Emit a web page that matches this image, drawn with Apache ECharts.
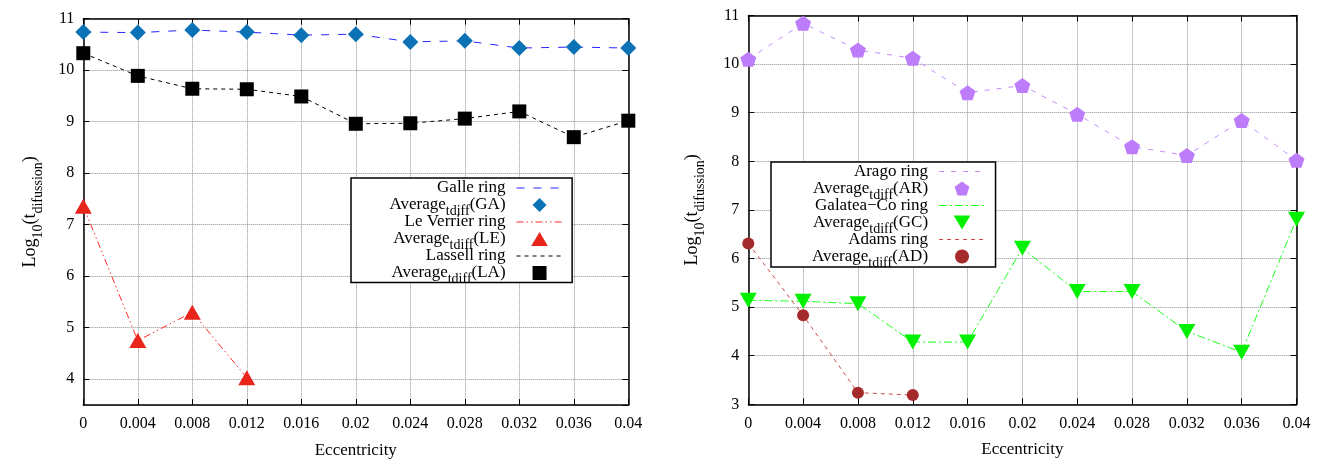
<!DOCTYPE html>
<html><head><meta charset="utf-8">
<script src="https://cdn.jsdelivr.net/npm/echarts@6/dist/echarts.min.js"></script>
<style>html,body{margin:0;padding:0;background:#fff}#c{width:1320px;height:460px}</style>
</head><body><div id="c"></div><script>
// ---- data ----
const eccentricity = [0, 0.004, 0.008, 0.012, 0.016, 0.02, 0.024, 0.028, 0.032, 0.036, 0.04];
const galleAvg    = [10.74, 10.73, 10.78, 10.74, 10.68, 10.70, 10.55, 10.57, 10.43, 10.45, 10.43];
const lassellAvg  = [10.33, 9.89, 9.64, 9.63, 9.49, 8.96, 8.97, 9.06, 9.20, 8.70, 9.02];
const leVerrierEcc = [0, 0.004, 0.008, 0.012];
const leVerrierAvg = [7.36, 4.75, 5.30, 4.03];
const aragoAvg    = [10.10, 10.84, 10.29, 10.12, 9.41, 9.56, 8.97, 8.30, 8.12, 8.84, 8.02];
const galateaAvg  = [5.14, 5.12, 5.07, 4.28, 4.28, 6.21, 5.32, 5.32, 4.50, 4.07, 6.81];
const adamsEcc    = [0, 0.004, 0.008, 0.012];
const adamsAvg    = [6.31, 4.83, 3.24, 3.19];

const FONT = 'Liberation Serif';
const pairs = (xs, ys) => xs.map((x, i) => [x, ys[i]]);

// marker shapes
const SYM = {
  diamond: 'path://M0,-1 L1,0 L0,1 L-1,0 Z',
  square: 'path://M-1,-1 L1,-1 L1,1 L-1,1 Z',
  triUp: 'path://M0,-1 L1.1,0.85 L-1.1,0.85 Z',
  triDown: 'path://M-1.1,-0.85 L1.1,-0.85 L0,1 Z',
  pentagon: 'path://M0,-1 L0.951,-0.309 L0.588,0.809 L-0.588,0.809 L-0.951,-0.309 Z'
};
// legend sample for a dashed line, built as a row of thin bars
function dashIcon(pattern, total) {
  let x = 0, k = 0, d = '';
  while (x < total) {
    const on = Math.min(pattern[k % pattern.length], total - x);
    if (k % 2 === 0 && on > 0) d += 'M' + x + ',0 L' + (x + on) + ',0 L' + (x + on) + ',1.1 L' + x + ',1.1 Z ';
    x += pattern[k % pattern.length];
    k++;
  }
  return 'path://' + d + 'M' + total + ',0 L' + total + ',1.1 L' + (total - 0.01) + ',1.1 Z';
}

const STYLE = {
  'Galle ring':          { color: '#2525ff', dash: [8, 9] },
  'Average_tdiff(GA)':   { color: '#0b72b5', symbol: SYM.diamond, size: 16 },
  'Le Verrier ring':     { color: '#ff2a2a', dash: [7, 3, 1.5, 3, 1.5, 3] },
  'Average_tdiff(LE)':   { color: '#e8241b', symbol: SYM.triUp, size: [17, 15] },
  'Lassell ring':        { color: '#000000', dash: [4, 4] },
  'Average_tdiff(LA)':   { color: '#000000', symbol: SYM.square, size: 14 },
  'Arago ring':          { color: '#c58cff', dash: [5, 7] },
  'Average_tdiff(AR)':   { color: '#bd7cfa', symbol: SYM.pentagon, size: [16, 15] },
  'Galatea\u2212Co ring': { color: '#1aff1a', dash: [8, 3, 2, 3] },
  'Average_tdiff(GC)':   { color: '#00f000', symbol: SYM.triDown, size: [17, 15] },
  'Adams ring':          { color: '#cc4a4a', dash: [4, 4] },
  'Average_tdiff(AD)':   { color: '#a52a2a', symbol: 'circle', size: 12 }
};
const leftLegendNames  = ['Galle ring', 'Average_tdiff(GA)', 'Le Verrier ring', 'Average_tdiff(LE)', 'Lassell ring', 'Average_tdiff(LA)'];
const rightLegendNames = ['Arago ring', 'Average_tdiff(AR)', 'Galatea\u2212Co ring', 'Average_tdiff(GC)', 'Adams ring', 'Average_tdiff(AD)'];

function lineSeries(name, gi, data) {
  const s = STYLE[name];
  return { type: 'line', name, xAxisIndex: gi, yAxisIndex: gi, data, symbol: 'none',
    lineStyle: { color: s.color, width: 1, type: s.dash }, itemStyle: { color: s.color }, z: 2 };
}
function scatterSeries(name, gi, data) {
  const s = STYLE[name];
  return { type: 'scatter', name, xAxisIndex: gi, yAxisIndex: gi, data, symbol: s.symbol,
    symbolSize: s.size, symbolKeepAspect: false, itemStyle: { color: s.color, opacity: 1 }, z: 3 };
}

const richText = {
  n: { fontFamily: FONT, fontSize: 17, lineHeight: 17, verticalAlign: 'top', color: '#000' },
  s: { fontFamily: FONT, fontSize: 14, lineHeight: 17, verticalAlign: 'top', padding: [8, 0, 0, 0], color: '#000' }
};
// every row gets a (possibly zero-width) subscript token so all rows have equal height
function legendFmt(name) {
  const m = name.match(/^Average_tdiff(.*)$/);
  return m ? '{n|Average}{s|tdiff}{n|' + m[1] + '}' : '{n|' + name + '}{s|\u200b}';
}
function legendItems(names) {
  return names.map(n => {
    const s = STYLE[n];
    return s.dash
      ? { name: n, icon: dashIcon(s.dash, 46), itemStyle: { color: s.color, borderWidth: 0 } }
      : { name: n };
  });
}
function legend(names, left, top, pad) {
  return { orient: 'vertical', align: 'right', left, top, data: legendItems(names), formatter: legendFmt,
    itemWidth: 46, itemHeight: 14, itemGap: -5, padding: pad, symbolKeepAspect: true,
    backgroundColor: '#fff', borderColor: '#000', borderWidth: 1.5, borderRadius: 0,
    selectedMode: false,
    textStyle: { fontFamily: FONT, fontSize: 17, color: '#000', padding: [0, 6, 0, 0], rich: richText } };
}

const gridLine = { show: true, lineStyle: { color: '#8f8f8f', type: 'dotted', width: 1 } };
const axisLine = { show: true, onZero: false, lineStyle: { color: '#000', width: 1.5 } };
const tick = { show: true, inside: true, length: 6, lineStyle: { color: '#000', width: 1 } };
const labelFont = { fontFamily: FONT, fontSize: 16, color: '#000' };
const yName = '{n|Log}{s|10}{n|(t}{s|difussion}{n|)}';
const nameRich = {
  n: { fontFamily: FONT, fontSize: 18, lineHeight: 20, verticalAlign: 'top', color: '#000' },
  s: { fontFamily: FONT, fontSize: 14, lineHeight: 20, verticalAlign: 'top', padding: [10, 0, 0, 0], color: '#000' }
};

function xMain(gi) {
  return { type: 'value', gridIndex: gi, min: 0, max: 0.04, interval: 0.004, position: 'bottom',
    name: 'Eccentricity', nameLocation: 'middle', nameGap: 37,
    nameTextStyle: { fontFamily: FONT, fontSize: 17, color: '#000' },
    axisLine, axisTick: tick, splitLine: gridLine, axisLabel: { ...labelFont, margin: 11 } };
}
function xMirror(gi) {
  return { type: 'value', gridIndex: gi, min: 0, max: 0.04, interval: 0.004, position: 'top',
    axisLine, axisTick: tick, splitLine: { show: false }, axisLabel: { show: false } };
}
function yMain(gi, min, gap) {
  return { type: 'value', gridIndex: gi, min, max: 11, minInterval: 1, maxInterval: 1, position: 'left',
    name: yName, nameLocation: 'middle', nameGap: gap, nameRotate: 90,
    nameTextStyle: { rich: nameRich },
    axisLine, axisTick: tick, splitLine: gridLine,
    axisLabel: { ...labelFont, margin: 9, showMinLabel: min === Math.round(min) } };
}
function yMirror(gi, min) {
  return { type: 'value', gridIndex: gi, min, max: 11, minInterval: 1, maxInterval: 1, position: 'right',
    axisLine, axisTick: tick, splitLine: { show: false }, axisLabel: { show: false } };
}

const option = {
  backgroundColor: '#fff',
  animation: false,
  grid: [
    { left: 83.3, right: 691.7, top: 18.7, bottom: 55, containLabel: false, outerBoundsMode: 'none' },
    { left: 748.3, right: 23.5, top: 15.5, bottom: 55.7, containLabel: false, outerBoundsMode: 'none' }
  ],
  xAxis: [xMain(0), xMain(1), xMirror(0), xMirror(1)],
  yAxis: [yMain(0, 3.5, 42), yMain(1, 3, 45), yMirror(0, 3.5), yMirror(1, 3)],
  legend: [
    legend(leftLegendNames, 351, 178, [1.5, 9.6, -4, 38.5]),
    legend(rightLegendNames, 771, 162, [1, 10.5, -3, 41])
  ],
  series: [
    lineSeries('Galle ring', 0, pairs(eccentricity, galleAvg)),
    scatterSeries('Average_tdiff(GA)', 0, pairs(eccentricity, galleAvg)),
    lineSeries('Le Verrier ring', 0, pairs(leVerrierEcc, leVerrierAvg)),
    scatterSeries('Average_tdiff(LE)', 0, pairs(leVerrierEcc, leVerrierAvg)),
    lineSeries('Lassell ring', 0, pairs(eccentricity, lassellAvg)),
    scatterSeries('Average_tdiff(LA)', 0, pairs(eccentricity, lassellAvg)),
    lineSeries('Arago ring', 1, pairs(eccentricity, aragoAvg)),
    scatterSeries('Average_tdiff(AR)', 1, pairs(eccentricity, aragoAvg)),
    lineSeries('Galatea\u2212Co ring', 1, pairs(eccentricity, galateaAvg)),
    scatterSeries('Average_tdiff(GC)', 1, pairs(eccentricity, galateaAvg)),
    lineSeries('Adams ring', 1, pairs(adamsEcc, adamsAvg)),
    scatterSeries('Average_tdiff(AD)', 1, pairs(adamsEcc, adamsAvg))
  ]
};

const chart = echarts.init(document.getElementById('c'), null, { renderer: 'canvas' });
chart.setOption(option);
</script></body></html>
